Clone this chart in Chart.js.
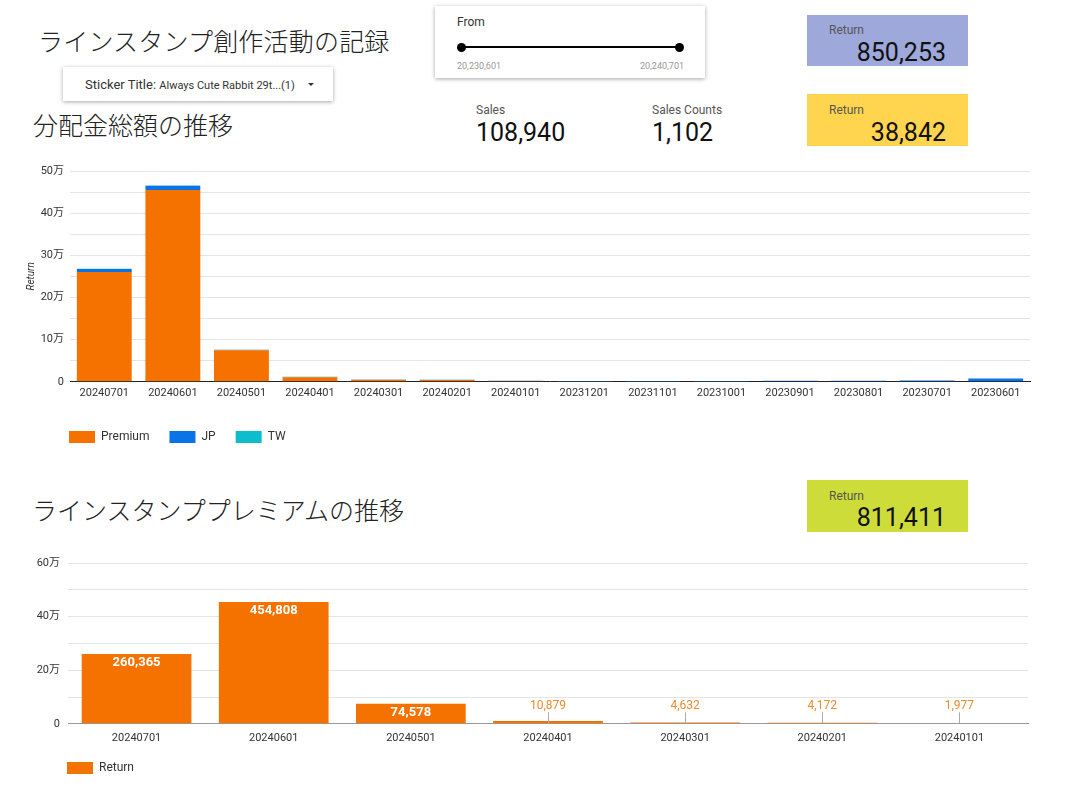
<!DOCTYPE html>
<html lang="ja">
<head>
<meta charset="utf-8">
<title>ラインスタンプ創作活動の記録</title>
<script src="https://cdn.jsdelivr.net/npm/chart.js@4.4.1/dist/chart.umd.min.js"></script>
<style>
  body { margin: 0; width: 1069px; height: 798px; background: #fff; position: relative; overflow: hidden;
         font-family: Roboto, "Noto Sans CJK JP", sans-serif; color: #222; }
  .abs { position: absolute; white-space: nowrap; }
  .jp { font-family: "Noto Sans CJK JP", sans-serif; font-weight: 300; font-size: 25px; line-height: 25px; color: #222; }
  .card { background: #fff; box-shadow: 0 1px 4px rgba(0,0,0,0.35); }
  .kpi { width: 161px; }
  .kpi .lbl { position: absolute; left: 22px; font-size: 12px; color: #555; }
  .kpi .val { position: absolute; right: 22px; font-size: 25px; line-height: 25px; color: #111; }
  .small { font-size: 12px; color: #555; }
  .big { font-size: 25px; line-height: 25px; color: #111; }
  .caret { width: 0; height: 0; border-left: 3px solid transparent; border-right: 3px solid transparent; border-top: 3px solid #333; }
</style>
</head>
<body>

<div class="abs jp" style="left:38px; top:28px; letter-spacing:0.2px;">ラインスタンプ創作活動の記録</div>
<div class="abs jp" style="left:33px; top:112px;">分配金総額の推移</div>
<div class="abs jp" style="left:32px; top:497px;">ラインスタンププレミアムの推移</div>

<div class="abs card" style="left:63px; top:67px; width:270px; height:34px;">
  <div class="abs" style="left:22px; top:10px; font-size:13px; color:#333;">Sticker Title: <span style="font-size:11px;">Always Cute Rabbit 29t...(1)</span></div>
  <div class="abs caret" style="left:245px; top:16px;"></div>
</div>

<div class="abs card" style="left:435px; top:6px; width:270px; height:72px;">
  <div class="abs" style="left:22px; top:9px; font-size:12px; color:#333;">From</div>
  <div class="abs" style="left:26px; top:40px; width:218px; height:2px; background:#000;"></div>
  <div class="abs" style="left:22px; top:37px; width:9px; height:9px; border-radius:50%; background:#000;"></div>
  <div class="abs" style="left:240px; top:37px; width:9px; height:9px; border-radius:50%; background:#000;"></div>
  <div class="abs" style="left:22px; top:55px; font-size:9px; color:#999;">20,230,601</div>
  <div class="abs" style="right:21px; top:55px; font-size:9px; color:#999;">20,240,701</div>
</div>

<div class="abs small" style="left:476px; top:103px;">Sales</div>
<div class="abs big" style="left:476px; top:120px;">108,940</div>
<div class="abs small" style="left:652px; top:103px;">Sales Counts</div>
<div class="abs big" style="left:652px; top:120px;">1,102</div>

<div class="abs kpi" style="left:807px; top:15px; height:51px; background:#9fa8da;">
  <div class="lbl" style="top:8px;">Return</div>
  <div class="val" style="top:25px;">850,253</div>
</div>
<div class="abs kpi" style="left:807px; top:94px; height:52px; background:#ffd54f;">
  <div class="lbl" style="top:9px;">Return</div>
  <div class="val" style="top:26px;">38,842</div>
</div>
<div class="abs kpi" style="left:807px; top:480px; height:52px; background:#cddc39;">
  <div class="lbl" style="top:9px;">Return</div>
  <div class="val" style="top:25px;">811,411</div>
</div>

<div class="abs" style="left:25px; top:157px; width:1015px; height:296px;"><canvas id="totalChart"></canvas></div>
<div class="abs" style="left:20px; top:548px; width:1020px; height:236px;"><canvas id="premiumChart"></canvas></div>

<script>
// 分配金総額 (stacked by source)
const months = ['20240701', '20240601', '20240501', '20240401', '20240301', '20240201', '20240101',
                '20231201', '20231101', '20231001', '20230901', '20230801', '20230701', '20230601'];
const premiumReturn = [260365, 454808, 74578, 10879, 4632, 4172, 1977, 0, 0, 0, 0, 0, 0, 0];
const jpReturn = [7400, 10300, 1200, 800, 600, 500, 400, 100, 300, 400, 2200, 2400, 3000, 7912];
const twReturn = [300, 400, 300, 150, 100, 100, 80, 0, 0, 0, 0, 0, 0, 0];

// プレミアムの推移
const premiumMonths = ['20240701', '20240601', '20240501', '20240401', '20240301', '20240201', '20240101'];
const premiumValues = [260365, 454808, 74578, 10879, 4632, 4172, 1977];

const ORANGE = '#f57200';
const JP_BLUE = '#0a73e8';
const TW_TEAL = '#0ebdcc';

Chart.defaults.font.family = 'Roboto, "Noto Sans CJK JP", sans-serif';
Chart.defaults.color = '#333';
Chart.defaults.animation = false;

function manLabel(value) {
    return value === 0 ? '0' : (value / 10000) + '万';
}

// move the legend so it starts at the plot's left edge
const legendToPlot = {
    id: 'legendToPlot',
    afterLayout(chart) {
        chart.legend.left = chart.chartArea.left - chart.legend.options.labels.padding - 1;
    }
};

// value labels for the premium chart
const valueLabels = {
    id: 'valueLabels',
    afterDatasetsDraw(chart) {
        const ctx = chart.ctx;
        const bars = chart.getDatasetMeta(0).data;
        const values = chart.data.datasets[0].data;
        ctx.save();
        ctx.textAlign = 'center';
        ctx.textBaseline = 'middle';
        bars.forEach((bar, i) => {
            const text = values[i].toLocaleString('en-US');
            if (bar.base - bar.y > 16) {
                ctx.fillStyle = '#fff';
                ctx.font = 'bold 13px Roboto';
                ctx.fillText(text, bar.x, bar.y + 9);
            } else {
                ctx.fillStyle = '#ef8a2e';
                ctx.font = '12px Roboto';
                ctx.fillText(text, bar.x, bar.base - 17);
                ctx.strokeStyle = '#aaa';
                ctx.lineWidth = 1;
                ctx.beginPath();
                ctx.moveTo(Math.round(bar.x) + 0.5, bar.base - 11);
                ctx.lineTo(Math.round(bar.x) + 0.5, bar.base);
                ctx.stroke();
            }
        });
        ctx.restore();
    }
};

new Chart(document.getElementById('totalChart'), {
    type: 'bar',
    data: {
        labels: months,
        datasets: [
            { label: 'Premium', data: premiumReturn, backgroundColor: ORANGE },
            { label: 'JP', data: jpReturn, backgroundColor: JP_BLUE },
            { label: 'TW', data: twReturn, backgroundColor: TW_TEAL }
        ]
    },
    options: {
        responsive: true,
        maintainAspectRatio: false,
        layout: { padding: { top: 14, right: 10, left: 0, bottom: 0 } },
        datasets: { bar: { barPercentage: 0.8, categoryPercentage: 1 } },
        scales: {
            x: {
                stacked: true,
                grid: { display: false, drawTicks: false },
                border: { display: true, color: '#222' },
                ticks: { font: { size: 11 }, color: '#333', maxRotation: 0, autoSkip: false, padding: 5 },
                afterFit(scale) { scale.height += 6; }
            },
            y: {
                stacked: true,
                min: 0,
                max: 500000,
                grid: { color: '#e4e4e4', drawTicks: false },
                border: { display: false },
                ticks: {
                    stepSize: 50000,
                    padding: 6,
                    font: { size: 11 },
                    color: '#333',
                    callback: v => (v % 100000 === 0 ? manLabel(v) : '')
                },
                title: { display: true, text: 'Return', font: { size: 10, style: 'italic' }, color: '#333', padding: { top: 0, bottom: 0, left: 3 } },
                afterFit(scale) { scale.width = 45; }
            }
        },
        plugins: {
            legend: {
                position: 'bottom',
                align: 'start',
                labels: { boxWidth: 26, boxHeight: 12, padding: 20, font: { size: 12 }, color: '#333' }
            },
            tooltip: { enabled: false }
        }
    },
    plugins: [legendToPlot]
});

new Chart(document.getElementById('premiumChart'), {
    type: 'bar',
    data: {
        labels: premiumMonths,
        datasets: [
            { label: 'Return', data: premiumValues, backgroundColor: ORANGE }
        ]
    },
    options: {
        responsive: true,
        maintainAspectRatio: false,
        layout: { padding: { top: 15, right: 12, left: 0, bottom: 0 } },
        datasets: { bar: { barPercentage: 0.8, categoryPercentage: 1 } },
        scales: {
            x: {
                grid: { display: false, drawTicks: false },
                border: { display: true, color: '#999' },
                ticks: { font: { size: 11 }, color: '#333', maxRotation: 0, autoSkip: false, padding: 8 }
            },
            y: {
                min: 0,
                max: 600000,
                grid: { color: '#e4e4e4', drawTicks: false },
                border: { display: false },
                ticks: {
                    stepSize: 100000,
                    padding: 8,
                    font: { size: 11 },
                    color: '#333',
                    callback: v => (v % 200000 === 0 ? manLabel(v) : '')
                },
                afterFit(scale) { scale.width = 48; }
            }
        },
        plugins: {
            legend: {
                position: 'bottom',
                align: 'start',
                labels: { boxWidth: 26, boxHeight: 12, padding: 9, font: { size: 12 }, color: '#333' }
            },
            tooltip: { enabled: false }
        }
    },
    plugins: [legendToPlot, valueLabels]
});
</script>
</body>
</html>
